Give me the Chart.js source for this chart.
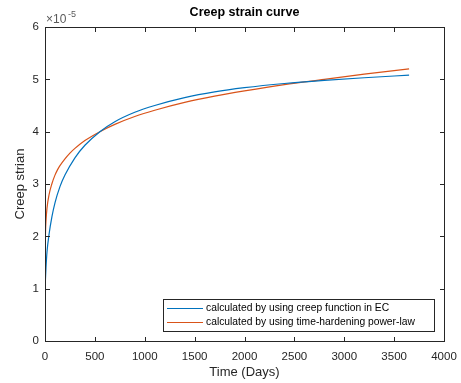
<!DOCTYPE html>
<html>
<head>
<meta charset="utf-8">
<script src="https://cdn.jsdelivr.net/npm/chart.js@4.4.0/dist/chart.umd.min.js"></script>
<style>
    html, body { margin: 0; padding: 0; background: #ffffff; }
    canvas { display: block; }
</style>
</head>
<body>
<canvas id="creepChart" width="461" height="383"></canvas>
<script>
// values are in units of 1e-5 (axis shows x10^-5)
const ecDays = [1, 2, 5, 10, 20, 40, 70, 100, 150, 200, 300, 400, 550, 700, 900, 1100, 1400, 1700, 2000, 2400, 2800, 3200, 3650];
const ecStrain = [0.95, 1.05, 1.2, 1.4, 1.7, 2.03, 2.38, 2.64, 2.95, 3.17, 3.5, 3.74, 4.0, 4.19, 4.37, 4.5, 4.65, 4.76, 4.84, 4.92, 4.98, 5.03, 5.08];

const powerDays = [0, 1, 2, 5, 10, 20, 40, 70, 100, 125, 150, 200, 250, 300, 400, 550, 700, 900, 1100, 1400, 1700, 2000, 2400, 2800, 3200, 3650];
const powerStrain = [0, 1.68, 1.84, 2.09, 2.3, 2.54, 2.79, 3.01, 3.17, 3.27, 3.35, 3.48, 3.59, 3.68, 3.83, 4.0, 4.14, 4.29, 4.41, 4.56, 4.68, 4.78, 4.9, 5.0, 5.1, 5.2];

const seriesLabels = ['calculated by using creep function in EC', 'calculated by using time-hardening power-law'];
const seriesColors = ['#0072BD', '#D95319'];

const xTicks = [0, 500, 1000, 1500, 2000, 2500, 3000, 3500, 4000];
const yTicks = [0, 1, 2, 3, 4, 5, 6];

const axisColor = '#262626';
const fontFamily = '"Liberation Sans", Arial, Helvetica, sans-serif';

function toPoints(days, values) {
    return days.map((d, i) => ({x: d, y: values[i]}));
}

// matlab-ish box, inward ticks, titles, exponent and legend
const matlabFrame = {
    id: 'matlabFrame',
    afterDraw(chart) {
        const ctx = chart.ctx;
        const area = chart.chartArea;
        const xs = chart.scales.x;
        const ys = chart.scales.y;
        const l = Math.round(area.left) + 0.5;
        const r = Math.round(area.right) + 0.5;
        const t = Math.round(area.top) + 0.5;
        const b = Math.round(area.bottom) + 0.5;
        const tick = 4.5;

        ctx.save();
        ctx.strokeStyle = axisColor;
        ctx.lineWidth = 1;
        ctx.strokeRect(l, t, r - l, b - t);

        ctx.beginPath();
        xTicks.forEach(v => {
            const px = Math.round(xs.getPixelForValue(v)) + 0.5;
            ctx.moveTo(px, b); ctx.lineTo(px, b - tick);
            ctx.moveTo(px, t); ctx.lineTo(px, t + tick);
        });
        yTicks.forEach(v => {
            const py = Math.round(ys.getPixelForValue(v)) + 0.5;
            ctx.moveTo(l, py); ctx.lineTo(l + tick, py);
            ctx.moveTo(r, py); ctx.lineTo(r - tick, py);
        });
        ctx.stroke();

        ctx.fillStyle = '#000000';
        ctx.textAlign = 'center';
        ctx.textBaseline = 'middle';
        ctx.font = 'bold 12.5px ' + fontFamily;
        ctx.fillText('Creep strain curve', (area.left + area.right) / 2, 13);

        ctx.fillStyle = axisColor;
        ctx.font = '13px ' + fontFamily;
        ctx.fillText('Time (Days)', (area.left + area.right) / 2, 372);

        ctx.save();
        ctx.translate(20, (area.top + area.bottom) / 2);
        ctx.rotate(-Math.PI / 2);
        ctx.fillText('Creep strian', 0, 0);
        ctx.restore();

        // exponent label
        ctx.textAlign = 'left';
        ctx.textBaseline = 'alphabetic';
        ctx.fillStyle = '#5a5a5a';
        ctx.font = '12px ' + fontFamily;
        ctx.fillText('\u00d710', 46, 23);
        ctx.font = '9px ' + fontFamily;
        ctx.fillText('-5', 68, 17);

        // legend box
        const lx = 163.5, ly = 299.5, lw = 271, lh = 32;
        ctx.fillStyle = '#ffffff';
        ctx.fillRect(lx, ly, lw, lh);
        ctx.strokeStyle = axisColor;
        ctx.strokeRect(lx, ly, lw, lh);
        ctx.font = '10.3px ' + fontFamily;
        ctx.textBaseline = 'middle';
        seriesLabels.forEach((label, i) => {
            const rowY = 308.5 + i * 14;
            ctx.strokeStyle = seriesColors[i];
            ctx.lineWidth = 1.2;
            ctx.beginPath();
            ctx.moveTo(167, rowY);
            ctx.lineTo(203, rowY);
            ctx.stroke();
            ctx.fillStyle = '#000000';
            ctx.fillText(label, 206, rowY);
        });
        ctx.restore();
    }
};

const chart = new Chart('creepChart', {
    type: 'line',
    data: {
        datasets: [
            {
                label: seriesLabels[0],
                data: toPoints(ecDays, ecStrain),
                borderColor: seriesColors[0],
                borderWidth: 1.2,
                pointRadius: 0,
                fill: false,
                cubicInterpolationMode: 'monotone'
            },
            {
                label: seriesLabels[1],
                data: toPoints(powerDays, powerStrain),
                borderColor: seriesColors[1],
                borderWidth: 1.2,
                pointRadius: 0,
                fill: false,
                cubicInterpolationMode: 'monotone'
            }
        ]
    },
    options: {
        responsive: false,
        animation: false,
        layout: {
            padding: {left: 0, top: 27, right: 17, bottom: 0}
        },
        scales: {
            x: {
                type: 'linear',
                min: 0,
                max: 4000,
                afterFit: scale => {
                    scale.height = 42;
                    scale.paddingLeft = 0;
                    scale.paddingRight = 0;
                },
                afterBuildTicks: scale => { scale.ticks = xTicks.map(v => ({value: v})); },
                grid: {display: false, drawTicks: false},
                border: {display: false},
                ticks: {
                    color: axisColor,
                    padding: 9,
                    maxRotation: 0,
                    autoSkip: false,
                    callback: v => String(v),
                    font: {family: fontFamily, size: 11.5}
                }
            },
            y: {
                type: 'linear',
                min: 0,
                max: 6,
                afterFit: scale => {
                    scale.width = 45;
                    scale.paddingTop = 0;
                    scale.paddingBottom = 0;
                },
                afterBuildTicks: scale => { scale.ticks = yTicks.map(v => ({value: v})); },
                grid: {display: false, drawTicks: false},
                border: {display: false},
                ticks: {
                    color: axisColor,
                    padding: 6,
                    callback: v => String(v),
                    font: {family: fontFamily, size: 11.5}
                }
            }
        },
        plugins: {
            legend: {display: false},
            tooltip: {enabled: false}
        }
    },
    plugins: [matlabFrame]
});
</script>
</body>
</html>
